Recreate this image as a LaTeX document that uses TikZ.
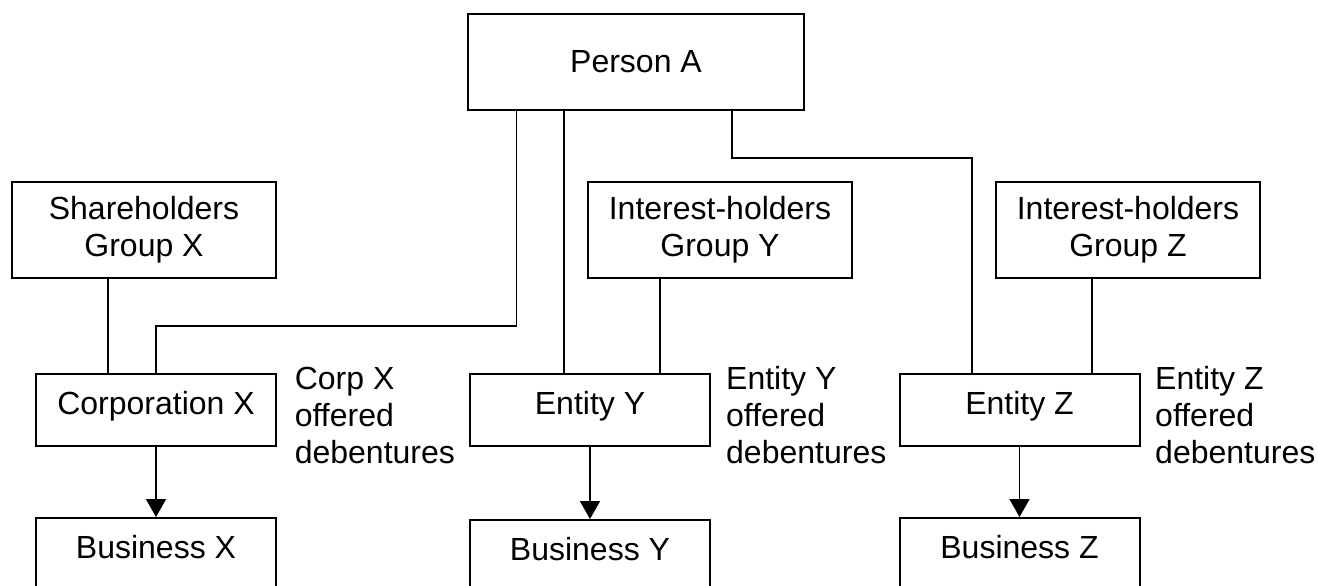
\documentclass[tikz,border=0pt]{standalone}
\usepackage{fontspec}
\setmainfont{Liberation Sans}
\usetikzlibrary{arrows.meta}
\begin{document}
\begin{tikzpicture}[x=1pt,y=-1pt,
  txt/.style={font=\fontsize{32pt}{37pt}\selectfont},
  box/.style={txt, draw, line width=2pt, inner sep=0pt, align=center},
  groupbox/.style={box, minimum width=264pt, minimum height=96pt},
  entbox/.style={box, minimum width=240pt, minimum height=72pt, text height=23pt, text depth=14pt},
  note/.style={txt, anchor=north west, inner sep=0pt, align=left},
  link/.style={line width=1.8pt},
  flow/.style={link, -{Triangle[length=18pt,width=20pt]}}]
  \useasboundingbox (0,0) rectangle (1318,586);
  \clip (0,0) rectangle (1318,586);

  % owner
  \node[box, minimum width=336pt, minimum height=96pt] (PA) at (636,62) {Person A};

  % holder groups
  \node[groupbox] (SX) at (144,230) {Shareholders\\Group X};
  \node[groupbox] (IY) at (720,230) {Interest-holders\\Group Y};
  \node[groupbox] (IZ) at (1128,230) {Interest-holders\\Group Z};

  % issuing entities
  \node[entbox] (CX) at (156,410) {Corporation X};
  \node[entbox] (EY) at (590,410) {Entity Y};
  \node[entbox] (EZ) at (1019.5,410) {Entity Z};

  % businesses
  \node[entbox] (BX) at (156,554) {Business X};
  \node[entbox] (BY) at (590,556) {Business Y};
  \node[entbox] (BZ) at (1019.5,554) {Business Z};

  % debenture notes
  \node[note] (nX) at (294.6,366.5) {Corp X\\offered\\debentures};
  \node[note] (nY) at (726,366.5) {Entity Y\\offered\\debentures};
  \node[note] (nZ) at (1155,366.5) {Entity Z\\offered\\debentures};

  % routing points
  \coordinate (sx) at (107.6,0);
  \coordinate (pa1) at (516.5,325.7);
  \coordinate (pa2) at (564,0);
  \coordinate (pa3) at (732,158);
  \coordinate (pa4) at (972,158);
  \coordinate (iy) at (660,0);
  \coordinate (iz) at (1092,0);

  % ownership links
  \draw[link] (SX.south -| sx) -- (CX.north -| sx);
  \draw[link] (PA.south -| pa1) -- (pa1) -| (CX.north);
  \draw[link] (PA.south -| pa2) -- (EY.north -| pa2);
  \draw[link] (PA.south -| pa3) -- (pa3) -- (pa4) -- (EZ.north -| pa4);
  \draw[link] (IY.south -| iy) -- (EY.north -| iy);
  \draw[link] (IZ.south -| iz) -- (EZ.north -| iz);

  % funding arrows
  \draw[flow] (CX.south) -- (BX.north);
  \draw[flow] (EY.south) -- (BY.north);
  \draw[flow] (EZ.south) -- (BZ.north);
\end{tikzpicture}
\end{document}
